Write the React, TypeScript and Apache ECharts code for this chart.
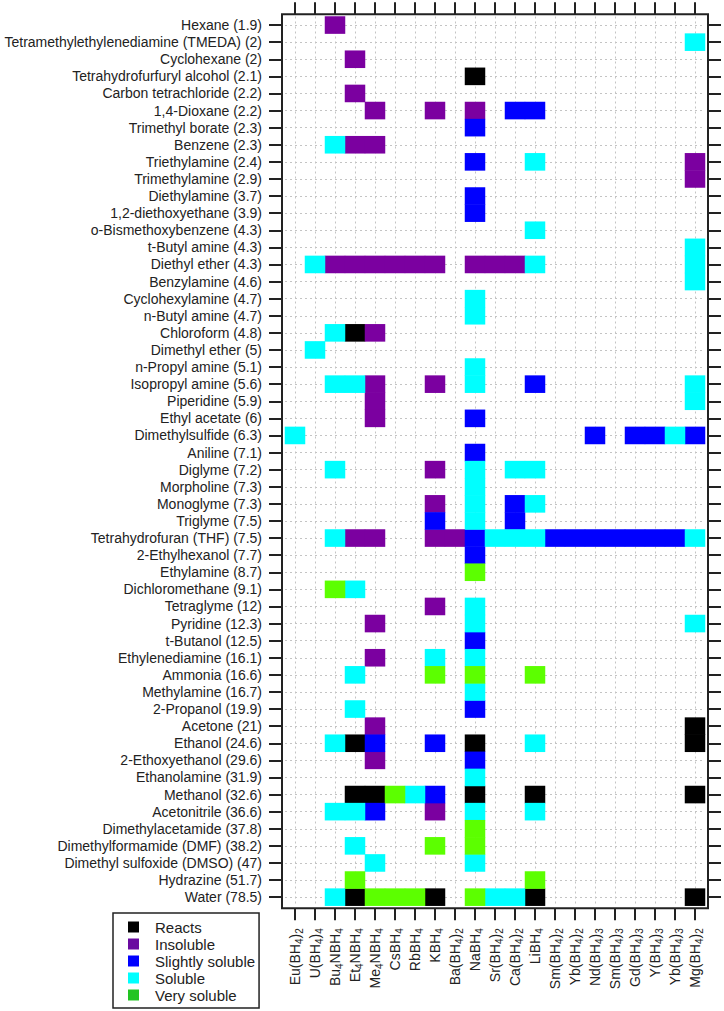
import React, { useEffect, useRef } from "react";
import * as echarts from "echarts";

const borohydrides = [
  "Eu(BH4)2", "U(BH4)4", "Bu4NBH4", "Et4NBH4", "Me4NBH4", "CsBH4", "RbBH4", "KBH4",
  "Ba(BH4)2", "NaBH4", "Sr(BH4)2", "Ca(BH4)2", "LiBH4", "Sm(BH4)2", "Yb(BH4)2",
  "Nd(BH4)3", "Sm(BH4)3", "Gd(BH4)3", "Y(BH4)3", "Yb(BH4)3", "Mg(BH4)2",
];

const solvents = [
  "Hexane (1.9)", "Tetramethylethylenediamine (TMEDA) (2)", "Cyclohexane (2)",
  "Tetrahydrofurfuryl alcohol (2.1)", "Carbon tetrachloride (2.2)", "1,4-Dioxane (2.2)",
  "Trimethyl borate (2.3)", "Benzene (2.3)", "Triethylamine (2.4)", "Trimethylamine (2.9)",
  "Diethylamine (3.7)", "1,2-diethoxyethane (3.9)", "o-Bismethoxybenzene (4.3)",
  "t-Butyl amine (4.3)", "Diethyl ether (4.3)", "Benzylamine (4.6)", "Cyclohexylamine (4.7)",
  "n-Butyl amine (4.7)", "Chloroform (4.8)", "Dimethyl ether (5)", "n-Propyl amine (5.1)",
  "Isopropyl amine (5.6)", "Piperidine (5.9)", "Ethyl acetate (6)", "Dimethylsulfide (6.3)",
  "Aniline (7.1)", "Diglyme (7.2)", "Morpholine (7.3)", "Monoglyme (7.3)", "Triglyme (7.5)",
  "Tetrahydrofuran (THF) (7.5)", "2-Ethylhexanol (7.7)", "Ethylamine (8.7)",
  "Dichloromethane (9.1)", "Tetraglyme (12)", "Pyridine (12.3)", "t-Butanol (12.5)",
  "Ethylenediamine (16.1)", "Ammonia (16.6)", "Methylamine (16.7)", "2-Propanol (19.9)",
  "Acetone (21)", "Ethanol (24.6)", "2-Ethoxyethanol (29.6)", "Ethanolamine (31.9)",
  "Methanol (32.6)", "Acetonitrile (36.6)", "Dimethylacetamide (37.8)",
  "Dimethylformamide (DMF) (38.2)", "Dimethyl sulfoxide (DMSO) (47)", "Hydrazine (51.7)",
  "Water (78.5)",
];

// Codes: R = Reacts, I = Insoluble, S = Slightly soluble, O = Soluble, V = Very soluble
const statusCodes = ["R", "I", "S", "O", "V"];
const statusNames = ["Reacts", "Insoluble", "Slightly soluble", "Soluble", "Very soluble"];

// For each solvent (row): [borohydride column index, status code]
const cells: [number, string][][] = [
  [[2, "I"]],
  [[20, "O"]],
  [[3, "I"]],
  [[9, "R"]],
  [[3, "I"]],
  [[4, "I"], [7, "I"], [9, "I"], [11, "S"], [12, "S"]],
  [[9, "S"]],
  [[2, "O"], [3, "I"], [4, "I"]],
  [[9, "S"], [12, "O"], [20, "I"]],
  [[20, "I"]],
  [[9, "S"]],
  [[9, "S"]],
  [[12, "O"]],
  [[20, "O"]],
  [[1, "O"], [2, "I"], [3, "I"], [4, "I"], [5, "I"], [6, "I"], [7, "I"], [9, "I"], [10, "I"], [11, "I"], [12, "O"], [20, "O"]],
  [[20, "O"]],
  [[9, "O"]],
  [[9, "O"]],
  [[2, "O"], [3, "R"], [4, "I"]],
  [[1, "O"]],
  [[9, "O"]],
  [[2, "O"], [3, "O"], [4, "I"], [7, "I"], [9, "O"], [12, "S"], [20, "O"]],
  [[4, "I"], [20, "O"]],
  [[4, "I"], [9, "S"]],
  [[0, "O"], [15, "S"], [17, "S"], [18, "S"], [19, "O"], [20, "S"]],
  [[9, "S"]],
  [[2, "O"], [7, "I"], [9, "O"], [11, "O"], [12, "O"]],
  [[9, "O"]],
  [[7, "I"], [9, "O"], [11, "S"], [12, "O"]],
  [[7, "S"], [9, "O"], [11, "S"]],
  [[2, "O"], [3, "I"], [4, "I"], [7, "I"], [8, "I"], [9, "S"], [10, "O"], [11, "O"], [12, "O"], [13, "S"], [14, "S"], [15, "S"], [16, "S"], [17, "S"], [18, "S"], [19, "S"], [20, "O"]],
  [[9, "S"]],
  [[9, "V"]],
  [[2, "V"], [3, "O"]],
  [[7, "I"], [9, "O"]],
  [[4, "I"], [9, "O"], [20, "O"]],
  [[9, "S"]],
  [[4, "I"], [7, "O"], [9, "O"]],
  [[3, "O"], [7, "V"], [9, "V"], [12, "V"]],
  [[9, "O"]],
  [[3, "O"], [9, "S"]],
  [[4, "I"], [20, "R"]],
  [[2, "O"], [3, "R"], [4, "S"], [7, "S"], [9, "R"], [12, "O"], [20, "R"]],
  [[4, "I"], [9, "S"]],
  [[9, "O"]],
  [[3, "R"], [4, "R"], [5, "V"], [6, "O"], [7, "S"], [9, "R"], [12, "R"], [20, "R"]],
  [[2, "O"], [3, "O"], [4, "S"], [7, "I"], [9, "O"], [12, "O"]],
  [[9, "V"]],
  [[3, "O"], [7, "V"], [9, "V"]],
  [[4, "O"], [9, "O"]],
  [[3, "V"], [12, "V"]],
  [[2, "O"], [3, "R"], [4, "V"], [5, "V"], [6, "V"], [7, "R"], [9, "V"], [10, "O"], [11, "O"], [12, "R"], [20, "R"]],
];

const COLORS: Record<string, string> = {
  R: "#000000",
  I: "#7b00a0",
  S: "#0000ff",
  O: "#00ffff",
  V: "#5cff00",
};
const LEGEND_COLORS: Record<string, string> = {
  R: "#000000",
  I: "#6a0aa0",
  S: "#0000ff",
  O: "#00ffff",
  V: "#22c422",
};

const FONT = "'Liberation Sans', Arial, sans-serif";
const TXT = "#222222";

// Turn digits into rich-text subscripts: "Eu(BH4)2" -> "{n|Eu(BH}{s|4}{n|)}{s|2}"
function formulaRich(label: string): string {
  return label
    .split(/(\d+)/)
    .filter((p) => p.length > 0)
    .map((p) => (/^\d+$/.test(p) ? `{s|${p}}` : `{n|${p}}`))
    .join("");
}

export default function App() {
  const ref = useRef<HTMLDivElement>(null);
  useEffect(() => {
    if (!ref.current) return;
    const chart = echarts.init(ref.current, undefined, { renderer: "svg" });

    const series = statusCodes.map((code, k) => {
      const data: number[][] = [];
      cells.forEach((row, j) => {
        row.forEach(([i, c]) => {
          if (c === code) data.push([i, j, k]);
        });
      });
      return {
        type: "heatmap",
        name: statusNames[k],
        xAxisIndex: 0,
        yAxisIndex: 0,
        data,
        itemStyle: { color: COLORS[code], borderWidth: 0 },
        emphasis: { disabled: true },
        z: 3,
      };
    });

    const visualMaps = statusCodes.map((code, k) => ({
      type: "piecewise",
      show: false,
      seriesIndex: k,
      dimension: 2,
      pieces: [{ value: k, color: COLORS[code] }],
    }));

    const tickStyle = { color: TXT, width: 2 };
    const gridLine = { color: "#c4c4c4", type: [2, 3], width: 1 };

    const option: any = {
      animation: false,
      textStyle: { fontFamily: FONT },
      grid: { left: 285, top: 16.5, width: 420, height: 889.2, containLabel: false },
      xAxis: [
        {
          type: "category",
          data: borohydrides,
          position: "bottom",
          offset: 2.6,
          axisLine: { show: false },
          axisTick: { show: true, alignWithLabel: true, interval: 0, length: 12, lineStyle: tickStyle },
          axisLabel: {
            interval: 0,
            rotate: 90,
            margin: 20,
            color: TXT,
            fontFamily: FONT,
            formatter: (v: string) => formulaRich(v),
            rich: {
              n: { fontSize: 14, lineHeight: 18, verticalAlign: "middle", color: TXT, fontFamily: FONT },
              s: { fontSize: 10, lineHeight: 10, verticalAlign: "bottom", color: TXT, fontFamily: FONT },
            },
          },
          splitLine: { show: true, alignWithLabel: true, interval: 0, lineStyle: gridLine },
        },
        {
          type: "category",
          data: borohydrides,
          position: "top",
          offset: 2.2,
          axisLine: { show: false },
          axisTick: { show: true, alignWithLabel: true, interval: 0, length: 12, lineStyle: tickStyle },
          axisLabel: { show: false },
          splitLine: { show: false },
        },
      ],
      yAxis: [
        {
          type: "category",
          data: solvents,
          inverse: true,
          position: "left",
          offset: 3,
          axisLine: { show: false },
          axisTick: { show: true, alignWithLabel: true, interval: 0, length: 13, lineStyle: tickStyle },
          axisLabel: { interval: 0, margin: 20, fontSize: 14, color: TXT, fontFamily: FONT },
          splitLine: { show: true, alignWithLabel: true, interval: 0, lineStyle: gridLine },
        },
        {
          type: "category",
          data: solvents,
          inverse: true,
          position: "right",
          offset: 3,
          axisLine: { show: false },
          axisTick: { show: true, alignWithLabel: true, interval: 0, length: 13, lineStyle: tickStyle },
          axisLabel: { show: false },
          splitLine: { show: false },
        },
      ],
      visualMap: visualMaps,
      legend: {
        orient: "vertical",
        left: 113,
        top: 913,
        padding: [6.5, 4, 5.5, 15],
        itemWidth: 11,
        itemHeight: 11,
        itemGap: 2,
        icon: "rect",
        borderColor: TXT,
        borderWidth: 1.5,
        borderRadius: 0,
        selectedMode: false,
        textStyle: { fontSize: 15, color: TXT, fontFamily: FONT, padding: [0, 0, 0, 11] },
        data: statusCodes.map((code, k) => ({
          name: statusNames[k],
          itemStyle: { color: LEGEND_COLORS[code] },
        })),
      },
      graphic: [
        {
          type: "rect",
          shape: { x: 282, y: 14.3, width: 426, height: 894 },
          style: { fill: "none", stroke: TXT, lineWidth: 2 },
          z: 100,
        },
      ],
      series,
    };

    chart.setOption(option);
    return () => chart.dispose();
  }, []);

  return (
    <div
      ref={ref}
      style={{ position: "absolute", left: 0, top: 0, width: 724, height: 1011, background: "#fff" }}
    />
  );
}
